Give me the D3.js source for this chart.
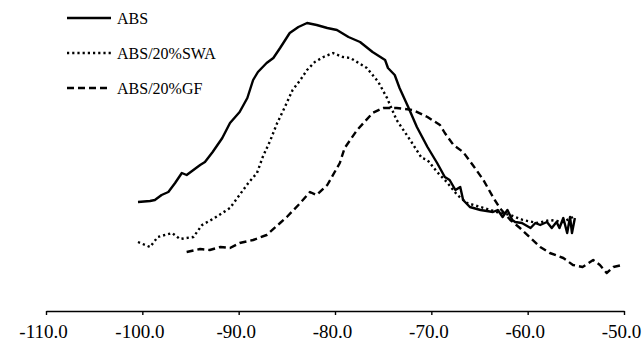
<!DOCTYPE html>
<html>
<head>
<meta charset="utf-8">
<script src="https://cdn.jsdelivr.net/npm/d3@7"></script>
<style>
  body { margin: 0; background: #fff; }
  svg { display: block; }
  text { font-family: "Liberation Serif", "Times New Roman", serif; }
</style>
</head>
<body>
<script>
// Temperature / position (x) and relative intensity in arbitrary units (y)
var absX = [-100.45, -99.2, -98.7, -98.0, -97.3, -96.6, -95.9, -95.4, -94.7, -94.0, -93.5, -92.7, -91.7, -90.9, -89.9, -89.1, -88.5, -88.0, -87.1, -86.4, -85.7, -84.7, -83.8, -82.9, -81.9, -80.8, -79.8, -78.6, -77.4, -76.1, -74.8, -74.5, -73.8, -73.3, -72.4, -71.5, -70.4, -69.4, -68.6, -68.1, -67.5, -67.0, -66.7, -66.0, -64.9, -63.6, -63.1, -62.6, -62.1, -61.6, -61.3, -60.6, -59.7, -59.2, -58.7, -58.0, -57.5, -57.0, -56.7, -56.3, -55.9, -55.6, -55.4, -55.1];
var absY = [109, 110, 111, 116, 119, 128, 138, 136, 141, 146, 149, 159, 173, 188, 199, 213, 231, 239, 248, 253, 263, 278, 284, 288, 286, 283, 281, 274, 269, 259, 251, 243, 236, 223, 204, 184, 164, 148, 134, 131, 121, 124, 111, 104, 101, 99, 101, 94, 101, 91, 89, 88, 83, 88, 86, 89, 83, 89, 83, 93, 78, 94, 78, 93];

var swaX = [-100.45, -99.2, -98.4, -96.9, -96.1, -94.7, -93.8, -92.5, -90.9, -89.0, -88.1, -87.5, -86.7, -86.0, -85.2, -84.4, -83.6, -82.9, -82.1, -81.2, -80.2, -79.2, -78.4, -76.7, -75.5, -74.6, -73.6, -72.2, -71.0, -70.4, -69.4, -68.4, -67.3, -66.3, -64.9, -63.2, -61.8, -60.5, -59.0, -57.7, -56.3, -55.3];
var swaY = [69, 64, 74, 78, 72, 74, 86, 93, 103, 128, 138, 154, 171, 188, 204, 221, 231, 241, 249, 254, 258, 254, 253, 243, 229, 213, 191, 171, 153, 151, 139, 129, 116, 108, 104, 99, 96, 91, 88, 91, 89, 94];

var gfX = [-95.4, -94.0, -93.0, -91.9, -90.9, -89.9, -88.5, -87.1, -85.7, -85.0, -83.6, -82.6, -81.9, -80.8, -79.5, -79.0, -77.7, -76.1, -75.0, -73.6, -71.9, -70.4, -69.1, -68.6, -67.7, -66.7, -65.7, -64.6, -63.6, -62.9, -61.8, -60.8, -59.8, -58.7, -57.7, -56.3, -55.3, -54.3, -53.2, -52.5, -51.8, -51.1, -50.2];
var gfY = [59, 62, 61, 64, 63, 68, 71, 76, 88, 94, 108, 119, 116, 126, 148, 163, 181, 198, 203, 203, 201, 194, 186, 178, 166, 159, 146, 131, 114, 103, 91, 83, 74, 64, 58, 53, 46, 44, 51, 46, 38, 44, 46];

var seriesNames = ["ABS", "ABS/20%SWA", "ABS/20%GF"];
var xTicks = [-110, -100, -90, -80, -70, -60, -50];

var w = 644, h = 343;
var svg = d3.select("body").append("svg")
  .attr("width", w)
  .attr("height", h);

var xScale = d3.scaleLinear().domain([-110, -50]).range([46, 624]);
var yScale = d3.scaleLinear().domain([0, 300]).range([311, 11]);

var styles = [
  {dash: null, width: 2.4},
  {dash: "2.2,3", width: 2.4},
  {dash: "7,4", width: 2.4}
];

var series = [
  d3.zip(absX, absY),
  d3.zip(swaX, swaY),
  d3.zip(gfX, gfY)
];

var line = d3.line()
  .x(d => xScale(d[0]))
  .y(d => yScale(d[1]));

series.forEach(function(s, i) {
  svg.append("path")
    .datum(s)
    .attr("d", line)
    .attr("fill", "none")
    .attr("stroke", "#000")
    .attr("stroke-width", styles[i].width)
    .attr("stroke-dasharray", styles[i].dash)
    .attr("stroke-linejoin", "round");
});

// x axis
var xAxis = d3.axisBottom(xScale)
  .tickValues(xTicks)
  .tickSize(4)
  .tickSizeOuter(0)
  .tickFormat(d => d3.format(".1f")(d).replace("\u2212", "-"));

var axisG = svg.append("g")
  .attr("transform", "translate(0,311)")
  .attr("font-family", "'Liberation Serif', 'Times New Roman', serif")
  .attr("font-size", 19)
  .call(xAxis);

axisG.select(".domain").attr("stroke-width", 1.6).attr("stroke", "#000");
axisG.selectAll(".tick line").attr("stroke-width", 1.4).attr("stroke", "#000");
axisG.selectAll(".tick text")
  .attr("y", 27)
  .attr("dy", 0)
  .attr("dx", -3)
  .attr("fill", "#000")
  .style("font-family", "'Liberation Serif', 'Times New Roman', serif")
  .style("font-size", "19px");

// legend
var legend = svg.append("g");
seriesNames.forEach(function(name, i) {
  var ly = 18 + i * 35;
  legend.append("line")
    .attr("x1", 67).attr("x2", 111)
    .attr("y1", ly).attr("y2", ly)
    .attr("stroke", "#000")
    .attr("stroke-width", styles[i].width)
    .attr("stroke-dasharray", styles[i].dash);
  legend.append("text")
    .attr("x", 117)
    .attr("y", ly + 5.5)
    .style("font-family", "'Liberation Serif', 'Times New Roman', serif")
    .style("font-size", "16px")
    .text(name);
});
</script>
</body>
</html>
